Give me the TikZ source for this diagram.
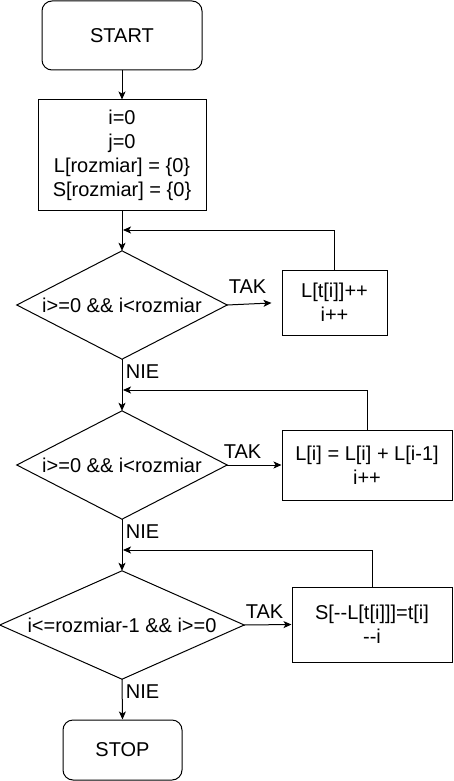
\documentclass[tikz,border=0pt]{standalone}
\usepackage{fontspec}
\setmainfont{Liberation Sans}
\usetikzlibrary{arrows.meta}
\newcommand{\mmdash}{-\kern0pt-}
\begin{document}
\begin{tikzpicture}[x=1pt,y=-1pt,
  every node/.style={font=\fontsize{20}{24}\selectfont, align=center, inner sep=0pt},
  term/.style={draw, line width=1pt, rounded corners=10pt},
  proc/.style={draw, line width=1pt},
  cond/.style={draw=none},
  arr/.style={line width=1pt, -{Stealth[length=8pt,width=7pt,inset=2pt]}},
  lbl/.style={}]
\useasboundingbox (0,0) rectangle (453,781);
\fill[white] (0,0) rectangle (453,781);
\node[term, minimum width=160pt, minimum height=69pt] (start) at (122,35.5) {START};
\node[proc, minimum width=168pt, minimum height=110pt] (init) at (122,155) {i=0\\j=0\\L[rozmiar] = \{0\}\\S[rozmiar] = \{0\}};
\node[cond, minimum width=210pt, minimum height=108pt] (d1) at (122,305) {i>=0 \&\& i<rozmiar};
\node[proc, minimum width=105pt, minimum height=65pt] (b1) at (334.5,302.5) {L[t[i]]++\\i++};
\node[cond, minimum width=210pt, minimum height=108pt] (d2) at (122,465) {i>=0 \&\& i<rozmiar};
\node[proc, minimum width=170pt, minimum height=70pt] (b2) at (367,465) {L[i] = L[i] + L[i-1]\\i++};
\node[cond, minimum width=244pt, minimum height=108pt] (d3) at (122,625) {i<=rozmiar-1 \&\& i>=0};
\node[proc, minimum width=160pt, minimum height=75pt] (b3) at (372,624.5) {S[\mmdash L[t[i]]]=t[i]\\\mmdash i};
\node[term, minimum width=119pt, minimum height=60pt] (stop) at (122.5,750) {STOP};
\foreach \d in {d1,d2,d3}
  \draw[line width=1pt] (\d.north) -- (\d.east) -- (\d.south) -- (\d.west) -- cycle;
\coordinate (j1) at (123,230);
\coordinate (j2) at (123,390);
\coordinate (j3) at (123,550);
\draw[arr] (start.south) -- (init.north);
\draw[arr] (init.south) -- (d1.north);
\draw[arr] (d1.south) -- (d2.north);
\draw[arr] (d2.south) -- (d3.north);
\draw[arr] (d3.south) -- (stop.north);
\draw[arr, shorten >=10pt] (d1.east) -- (b1.west);
\draw[arr] (d2.east) -- (b2.west);
\draw[arr] (d3.east) -- (b3.west);
\draw[arr] (b1.north) |- (j1);
\draw[arr] (b2.north) |- (j2);
\draw[arr] (b3.north) |- (j3);
\node[lbl] (t1) at (247.5,287) {TAK};
\node[lbl] (t2) at (242.5,452) {TAK};
\node[lbl] (t3) at (264.5,612) {TAK};
\node[lbl] (n1) at (142.5,372) {NIE};
\node[lbl] (n2) at (142.5,532) {NIE};
\node[lbl] (n3) at (142.5,692) {NIE};
\end{tikzpicture}
\end{document}
